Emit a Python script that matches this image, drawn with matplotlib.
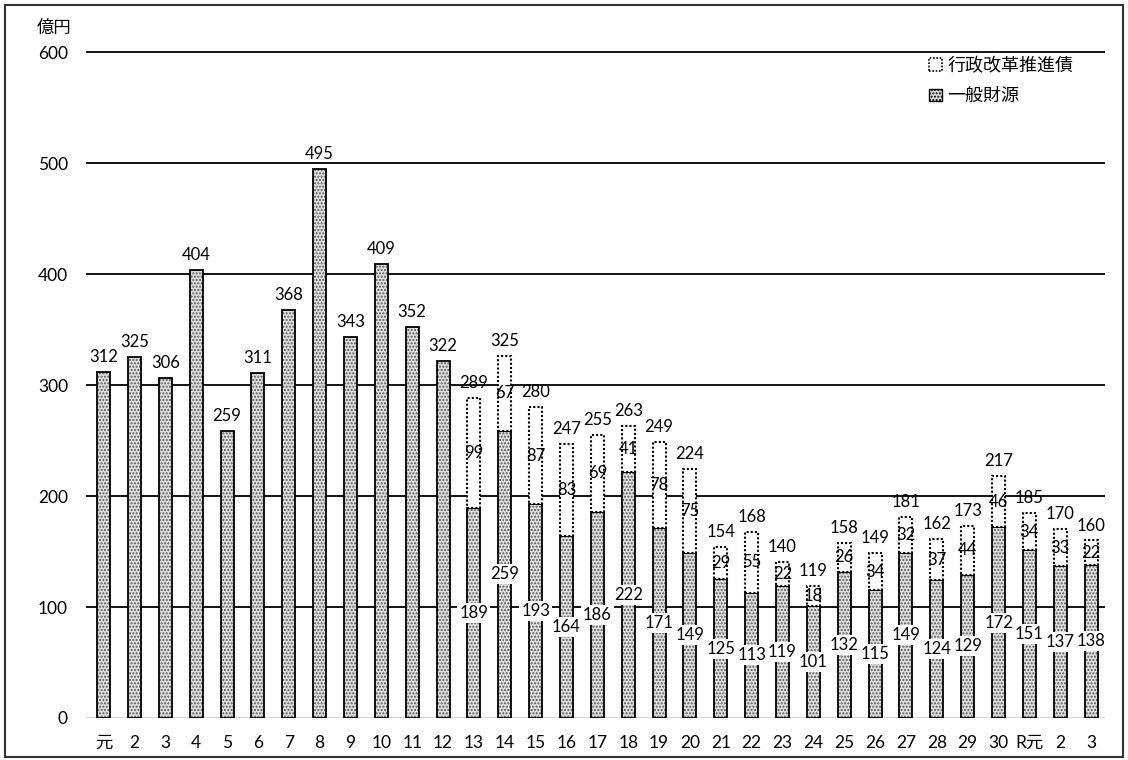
import matplotlib
matplotlib.use("Agg")
import matplotlib.pyplot as plt
from matplotlib.patches import Rectangle, Patch
import numpy as np

plt.rcParams['font.family'] = ['Lato', 'Noto Sans CJK JP', 'DejaVu Sans']
plt.rcParams['hatch.linewidth'] = 1.0

# ---- data ----
years = ['元', '2', '3', '4', '5', '6', '7', '8', '9', '10', '11', '12', '13', '14', '15',
         '16', '17', '18', '19', '20', '21', '22', '23', '24', '25', '26', '27', '28',
         '29', '30', 'R元', '2', '3']
general = [312, 325, 306, 404, 259, 311, 368, 495, 343, 409, 352, 322,
           189, 259, 193, 164, 186, 222, 171, 149, 125, 113, 119, 101, 132, 115,
           149, 124, 129, 172, 151, 137, 138]
bond = [0, 0, 0, 0, 0, 0, 0, 0, 0, 0, 0, 0,
        99, 67, 87, 83, 69, 41, 78, 75, 29, 55, 22, 18, 26, 34,
        32, 37, 44, 46, 34, 33, 22]
totals = [312, 325, 306, 404, 259, 311, 368, 495, 343, 409, 352, 322,
          289, 325, 280, 247, 255, 263, 249, 224, 154, 168, 140, 119, 158, 149,
          181, 162, 173, 217, 185, 170, 160]
yticks = [0, 100, 200, 300, 400, 500, 600]
legend_labels = ['行政改革推進債', '一般財源']
unit_label = '億円'

# ---- figure ----
W, H = 1128, 760
fig = plt.figure(figsize=(W / 100, H / 100), dpi=100)
ax = fig.add_axes([86 / W, 42 / H, (1105 - 86) / W, 688 / H])

x = np.arange(len(years))
bw = 0.42
gen = np.array(general)
bnd = np.array(bond)

stipple_face = '#dedede'
stipple_dot = '#5a5a5a'

# grid lines
for yv in yticks[1:]:
    ax.axhline(yv, color='black', lw=1.3, zorder=1)
ax.axhline(0, color='#222222', lw=1.0, zorder=1)

# general fund bars: stipple fill + outline
ax.bar(x, gen, width=bw, color=stipple_face, edgecolor=stipple_dot, hatch='.....',
       linewidth=0, zorder=2)
ax.bar(x, gen, width=bw, fill=False, edgecolor='black', linewidth=1.3, zorder=3)

# bond bars (stacked on top), white with dotted outline
has_bond = bnd > 0
ax.bar(x[has_bond], bnd[has_bond], bottom=gen[has_bond], width=bw, color='white',
       edgecolor='black', linewidth=1.5, linestyle=(0, (1, 1)), zorder=3)

fs = 12
# labels
for i in range(len(x)):
    top = gen[i] + bnd[i]
    ax.annotate(str(totals[i]), (x[i], top), xytext=(0, 5), textcoords='offset points',
                ha='center', va='bottom', fontsize=fs, zorder=6)
    if bnd[i] > 0:
        ax.text(x[i], gen[i] / 2, str(general[i]), ha='center', va='center', fontsize=fs,
                zorder=5, bbox=dict(facecolor='white', edgecolor='none', pad=1.5))
        ax.text(x[i], gen[i] + bnd[i] / 2, str(bond[i]), ha='center', va='center',
                fontsize=fs, zorder=5)

ax.set_xlim(-0.57, len(x) - 0.55)
ax.set_ylim(0, 620)
ax.set_xticks(x)
ax.set_xticklabels(years, fontsize=12.5)
ax.set_yticks(yticks)
ax.set_yticklabels([str(v) for v in yticks], fontsize=12.5)
ax.tick_params(axis='both', length=0)
ax.tick_params(axis='x', pad=12)
ax.tick_params(axis='y', pad=13)
for s in ax.spines.values():
    s.set_visible(False)

fig.text(54 / W, 1 - 28 / H, unit_label, ha='center', va='center', fontsize=12.5)

handles = [Patch(facecolor='white', edgecolor='black', linestyle=(0, (1, 1)), linewidth=1.2),
           Patch(facecolor=stipple_face, edgecolor='black', hatch='.....', linewidth=1.0)]
leg = ax.legend(handles, legend_labels, loc='upper right', bbox_to_anchor=(0.985, 0.985),
                frameon=False, fontsize=13, handlelength=0.7, handleheight=0.7,
                handletextpad=0.3, labelspacing=0.8)

# page border
fig.patches.append(Rectangle((5 / W, 3 / H), 1118 / W, 752 / H, transform=fig.transFigure,
                             fill=False, edgecolor='#333333', linewidth=1.5))

fig.savefig('out.png', dpi=100)
